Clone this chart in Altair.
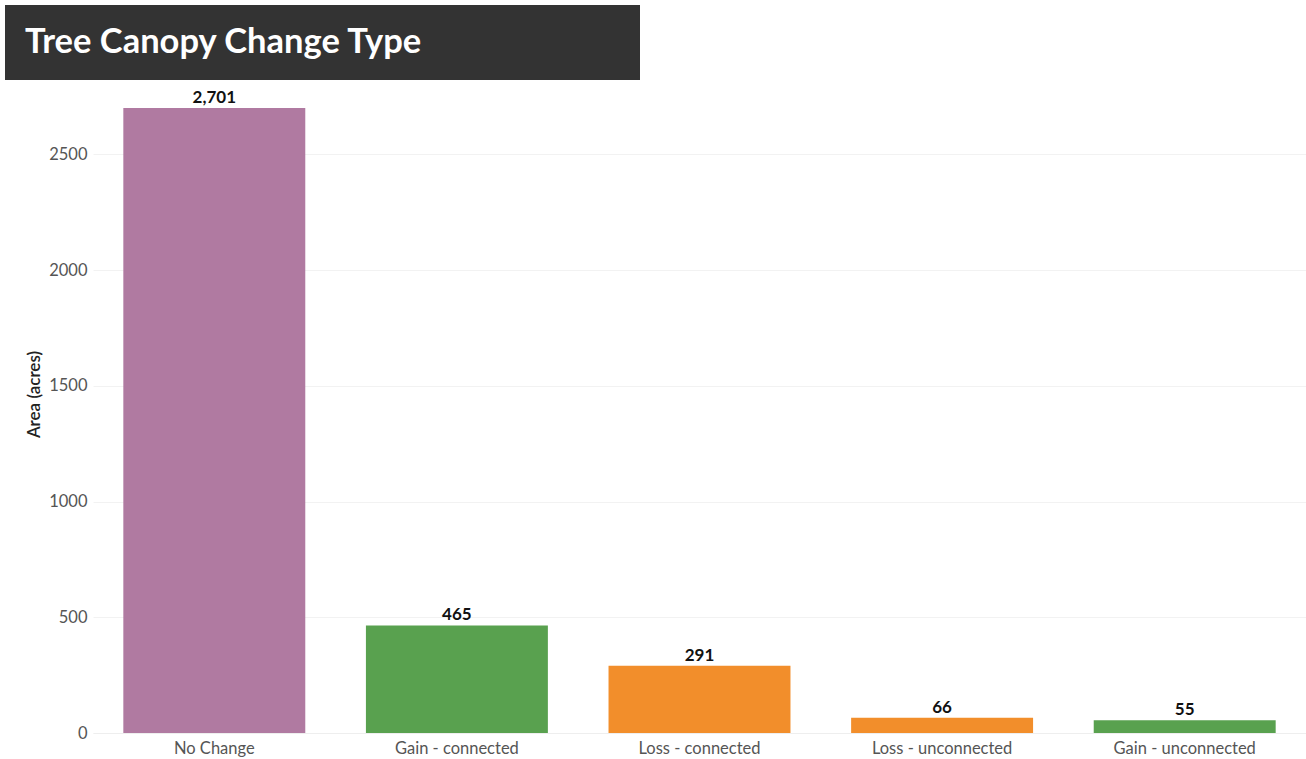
import altair as alt
import pandas as pd

categories = ["No Change", "Gain - connected", "Loss - connected", "Loss - unconnected", "Gain - unconnected"]
areas = [2701, 465, 291, 66, 55]
change_kind = ["None", "Gain", "Loss", "Loss", "Gain"]
kind_domain = ["None", "Gain", "Loss"]
kind_colors = ["#B07AA1", "#59A14F", "#F28E2B"]
y_ticks = [0, 500, 1000, 1500, 2000, 2500]
title_text = "Tree Canopy Change Type"

df = pd.DataFrame({"category": categories, "area": areas, "kind": change_kind})

FONT = "Lato"

x_enc = alt.X("category:N", sort=categories,
              scale=alt.Scale(paddingInner=0.25, paddingOuter=0.125),
              axis=alt.Axis(title=None, labelAngle=0, labelFont=FONT, labelFontSize=16.5,
                            labelColor="#555555", ticks=False, domain=True, domainColor="#eeeeee",
                            labelPadding=7))
y_enc = alt.Y("area:Q", scale=alt.Scale(domain=[0, 2800], nice=False),
              axis=alt.Axis(title="Area (acres)", values=y_ticks, format="d", labelFont=FONT,
                            labelFontSize=16.5, labelColor="#555555", ticks=False, domain=False,
                            gridColor="#f2f2f2", labelPadding=6, titleFont=FONT, titleFontSize=17,
                            titleColor="#222222", titleFontWeight=600, titleAngle=270,
                            titleX=-59, titleY=309, titleAlign="center", titleBaseline="middle"))

base = alt.Chart(df)

bars = base.mark_bar().encode(
    x=x_enc, y=y_enc,
    color=alt.Color("kind:N", scale=alt.Scale(domain=kind_domain, range=kind_colors), legend=None),
)

labels = base.mark_text(baseline="bottom", dy=-1, font=FONT, fontSize=17, fontWeight="bold",
                        color="#111111").encode(
    x=alt.X("category:N", sort=categories), y="area:Q",
    text=alt.Text("area:Q", format=","),
)

title_box = alt.Chart(pd.DataFrame({"t": [title_text]})).mark_rect(color="#333333", clip=False).encode(
    x=alt.value(-88), x2=alt.value(547), y=alt.value(-80), y2=alt.value(-5)
)
title_txt = alt.Chart(pd.DataFrame({"t": [title_text]})).mark_text(
    align="left", baseline="middle", font=FONT, fontSize=34.5, fontWeight="bold", color="white"
).encode(x=alt.value(-68), y=alt.value(-42), text="t:N")

chart = alt.layer(bars, labels, title_box, title_txt).properties(
    width=1213, height=648,
    autosize=alt.AutoSizeParams(type="none"),
    padding={"left": 93, "top": 85, "right": 0, "bottom": 26},
).configure(background="white", view=alt.ViewConfig(stroke=None, strokeWidth=0))

chart.save("out.html", embed_options={"renderer": "svg", "actions": False})
